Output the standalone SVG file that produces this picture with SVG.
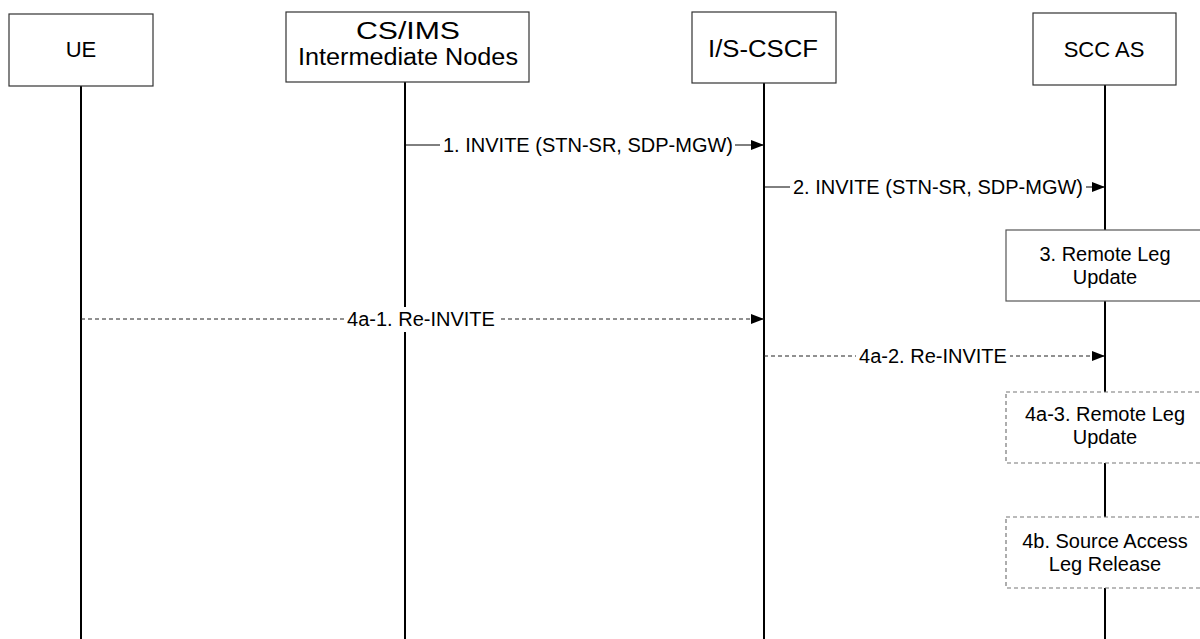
<svg xmlns="http://www.w3.org/2000/svg" width="1200" height="639" viewBox="0 0 1200 639">
  <style>
    .bg { fill: #ffffff; }
    .node { fill: #ffffff; stroke: #333333; stroke-width: 1.2; }
    .life { stroke: #000000; stroke-width: 2; fill: none; }
    .msg { stroke: #000000; stroke-width: 1; fill: none; }
    .dmsg { stroke: #222222; stroke-width: 1; stroke-dasharray: 4 3; fill: none; }
    .act { fill: #ffffff; stroke: #555555; stroke-width: 1.2; }
    .dact { fill: #ffffff; stroke: #777777; stroke-width: 1.2; stroke-dasharray: 4 3; }
    .nlabel { font-family: "Liberation Sans", Arial, sans-serif; font-size: 22px; fill: #000000; text-anchor: middle; }
    .big { font-size: 23px; }
    .label { font-family: "Liberation Sans", Arial, sans-serif; font-size: 20px; fill: #000000; text-anchor: middle; }
    .lbg { fill: #ffffff; stroke: none; }
  </style>
  <defs>
    <marker id="arrow" markerUnits="userSpaceOnUse" markerWidth="13" markerHeight="10" refX="13" refY="5" orient="auto">
      <path d="M0,0 L13,5 L0,10 z" fill="#000000"/>
    </marker>
  </defs>
  <rect class="bg" x="0" y="0" width="1200" height="639"/>

  <g id="lifelines">
    <line class="life" x1="81" y1="86" x2="81" y2="639"/>
    <line class="life" x1="405" y1="82" x2="405" y2="639"/>
    <line class="life" x1="764" y1="83" x2="764" y2="639"/>
    <line class="life" x1="1105" y1="85" x2="1105" y2="639"/>
  </g>

  <g id="node-ue">
    <rect class="node" x="9" y="14" width="144" height="72"/>
    <text class="nlabel" x="81" y="57">UE</text>
  </g>
  <g id="node-csims">
    <rect class="node" x="286" y="12" width="243" height="70"/>
    <text class="nlabel big" x="408" y="39" textLength="104" lengthAdjust="spacingAndGlyphs">CS/IMS</text>
    <text class="nlabel big" x="408" y="65" textLength="220" lengthAdjust="spacingAndGlyphs">Intermediate Nodes</text>
  </g>
  <g id="node-iscscf">
    <rect class="node" x="692" y="12" width="144" height="71"/>
    <text class="nlabel big" x="763" y="57" textLength="110" lengthAdjust="spacingAndGlyphs">I/S-CSCF</text>
  </g>
  <g id="node-sccas">
    <rect class="node" x="1033" y="13" width="143" height="72"/>
    <text class="nlabel" x="1104" y="57">SCC AS</text>
  </g>

  <g id="connectors">
    <g id="msg1">
      <line class="msg" x1="405" y1="145" x2="764" y2="145" marker-end="url(#arrow)"/>
      <rect class="lbg" x="440" y="134" width="295" height="22"/>
      <text class="label" x="588" y="152">1. INVITE (STN-SR, SDP-MGW)</text>
    </g>
    <g id="msg2">
      <line class="msg" x1="764" y1="187" x2="1105" y2="187" marker-end="url(#arrow)"/>
      <rect class="lbg" x="790" y="176" width="296" height="22"/>
      <text class="label" x="938" y="194">2. INVITE (STN-SR, SDP-MGW)</text>
    </g>
    <g id="msg4a1">
      <line class="dmsg" x1="81" y1="319" x2="764" y2="319" marker-end="url(#arrow)"/>
      <rect class="lbg" x="344" y="307" width="154" height="25"/>
      <text class="label" x="421" y="326">4a-1. Re-INVITE</text>
    </g>
    <g id="msg4a2">
      <line class="dmsg" x1="764" y1="356" x2="1105" y2="356" marker-end="url(#arrow)"/>
      <rect class="lbg" x="856" y="344" width="154" height="24"/>
      <text class="label" x="933" y="363">4a-2. Re-INVITE</text>
    </g>
  </g>

  <g id="step3">
    <rect class="act" x="1006" y="230" width="198" height="71"/>
    <text class="label" x="1105" y="261">3. Remote Leg</text>
    <text class="label" x="1105" y="284">Update</text>
  </g>
  <g id="step4a3">
    <rect class="dact" x="1006" y="392" width="198" height="71"/>
    <text class="label" x="1105" y="421">4a-3. Remote Leg</text>
    <text class="label" x="1105" y="444">Update</text>
  </g>
  <g id="step4b">
    <rect class="dact" x="1006" y="517" width="198" height="71"/>
    <text class="label" x="1105" y="548">4b. Source Access</text>
    <text class="label" x="1105" y="571">Leg Release</text>
  </g>
</svg>
